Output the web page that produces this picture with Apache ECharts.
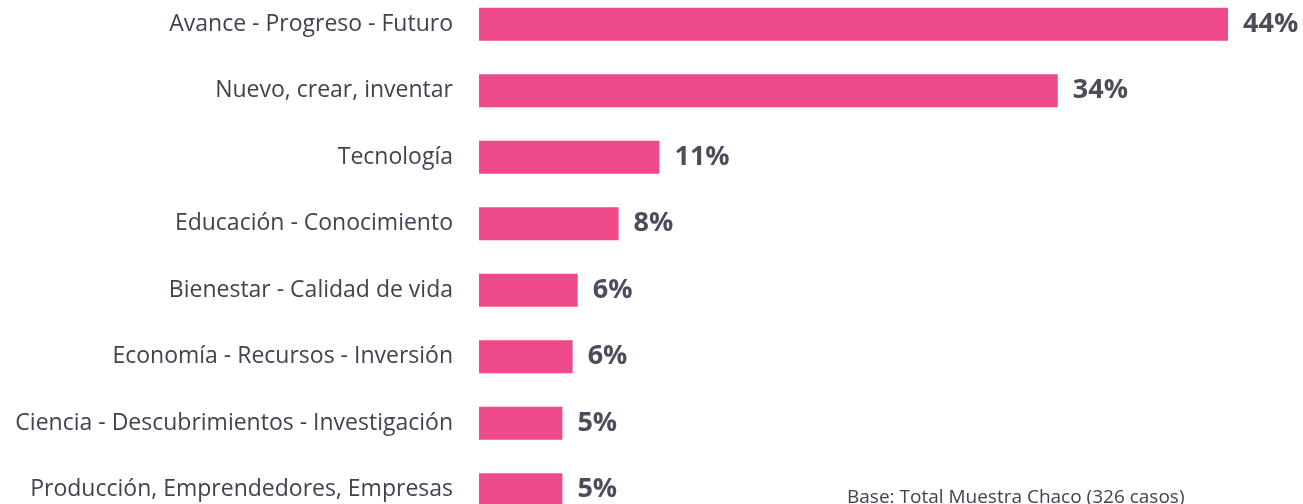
<!DOCTYPE html>
<html>
<head>
<meta charset="utf-8">
<script src="https://cdn.jsdelivr.net/npm/echarts@6/dist/echarts.min.js"></script>
<style>
  html, body { margin: 0; padding: 0; background: #fff; overflow: hidden; }
  body { width: 1303px; height: 504px; position: relative; }
  #main { position: absolute; left: 0; top: -9px; width: 1303px; height: 532px; }
</style>
</head>
<body>
<div id="main"></div>
<script>
var categories = [
    'Avance - Progreso - Futuro',
    'Nuevo, crear, inventar',
    'Tecnología',
    'Educación - Conocimiento',
    'Bienestar - Calidad de vida',
    'Economía - Recursos - Inversión',
    'Ciencia - Descubrimientos - Investigación',
    'Producción, Emprendedores, Empresas'
];
var values = [44, 34, 10.6, 8.2, 5.8, 5.5, 4.9, 4.9];
var footnote = 'Base: Total Muestra Chaco (326 casos)';

var myChart = echarts.init(document.getElementById('main'));

myChart.setOption({
    animation: false,
    grid: {
        left: 479,
        right: 75,
        top: 0,
        bottom: 0
    },
    xAxis: {
        type: 'value',
        min: 0,
        max: 44,
        show: false
    },
    yAxis: {
        type: 'category',
        inverse: true,
        data: categories,
        axisLine: { show: false },
        axisTick: { show: false },
        axisLabel: {
            margin: 26,
            fontFamily: 'Open Sans',
            fontSize: 23,
            color: '#3f4350'
        }
    },
    series: [{
        type: 'bar',
        data: values,
        barWidth: 33,
        itemStyle: { color: '#ee4a89' },
        label: {
            show: true,
            position: 'right',
            distance: 15,
            fontFamily: 'Open Sans',
            fontWeight: 'bold',
            fontSize: 27,
            color: '#4b4e5a',
            formatter: function (p) {
                return Math.round(p.value) + '%';  // etiquetas redondeadas
            }
        }
    }],
    graphic: [{
        type: 'text',
        left: 847,
        top: 497,
        style: {
            text: footnote,
            fontFamily: 'Open Sans',
            fontSize: 19,
            fill: '#3f4350'
        }
    }]
});
</script>
</body>
</html>
